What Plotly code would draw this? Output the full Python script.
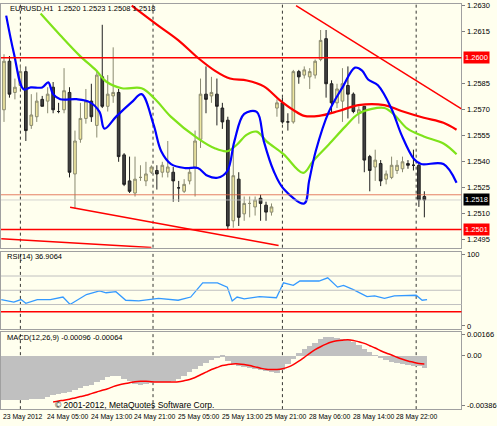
import plotly.graph_objects as go

# EURUSD H1 candles (bar index 0..77)
opens = [1.2570, 1.2598, 1.2580, 1.2584, 1.2592, 1.2561, 1.2566, 1.2576, 1.2575, 1.2583,
         1.2569, 1.2570, 1.2580, 1.2533, 1.2553, 1.2565, 1.2575, 1.2561, 1.2589, 1.2572,
         1.2578, 1.2580, 1.2544, 1.2529, 1.2522, 1.2531, 1.2529, 1.2534, 1.2535, 1.2534,
         1.2534, 1.2534, 1.2525, 1.2523, 1.2529, 1.2537, 1.2553, 1.2579, 1.2578, 1.2579,
         1.2571, 1.2564, 1.2506, 1.2530, 1.2510, 1.2516, 1.2514, 1.2519, 1.2515, 1.2511,
         1.2571, 1.2574, 1.2563, 1.2563, 1.2592, 1.2590, 1.2589, 1.2590, 1.2599, 1.2611,
         1.2585, 1.2574, 1.2575, 1.2584, 1.2579, 1.2568, 1.2572, 1.2543, 1.2537, 1.2539,
         1.2530, 1.2531, 1.2535, 1.2536, 1.2539, 1.2538, 1.2538, 1.2520]
highs = [1.2602, 1.2601, 1.2588, 1.2596, 1.2595, 1.2579, 1.2580, 1.2578, 1.2583, 1.2586,
         1.2574, 1.2594, 1.2583, 1.2558, 1.2574, 1.2582, 1.2585, 1.2593, 1.2619, 1.2590,
         1.2606, 1.2582, 1.2545, 1.2543, 1.2543, 1.2538, 1.2540, 1.2538, 1.2538, 1.2540,
         1.2552, 1.2537, 1.2529, 1.2530, 1.2537, 1.2558, 1.2588, 1.2595, 1.2589, 1.2588,
         1.2574, 1.2566, 1.2547, 1.2534, 1.2520, 1.2520, 1.2520, 1.2521, 1.2517, 1.2516,
         1.2576, 1.2577, 1.2568, 1.2593, 1.2593, 1.2595, 1.2594, 1.2599, 1.2616, 1.2616,
         1.2587, 1.2585, 1.2594, 1.2595, 1.2580, 1.2572, 1.2572, 1.2544, 1.2547, 1.2541,
         1.2535, 1.2543, 1.2541, 1.2543, 1.2541, 1.2547, 1.2540, 1.2523]
lows = [1.2563, 1.2577, 1.2576, 1.2582, 1.2552, 1.2559, 1.2563, 1.2572, 1.2568, 1.2568,
        1.2568, 1.2568, 1.2531, 1.2513, 1.2551, 1.2562, 1.2563, 1.2554, 1.2571, 1.2569,
        1.2574, 1.2540, 1.2526, 1.2522, 1.2520, 1.2529, 1.2526, 1.2533, 1.2524, 1.2531,
        1.2531, 1.2517, 1.2517, 1.2522, 1.2527, 1.2520, 1.2548, 1.2568, 1.2574, 1.2561,
        1.2559, 1.2501, 1.2502, 1.2503, 1.2506, 1.2508, 1.2509, 1.2506, 1.2506, 1.2509,
        1.2566, 1.2562, 1.2558, 1.2562, 1.2585, 1.2588, 1.2582, 1.2588, 1.2598, 1.2577,
        1.2568, 1.2571, 1.2563, 1.2565, 1.2568, 1.2562, 1.2534, 1.2523, 1.2529, 1.2526,
        1.2527, 1.2530, 1.2533, 1.2534, 1.2536, 1.2535, 1.2514, 1.2508]
closes = [1.2598, 1.2579, 1.2583, 1.2592, 1.2558, 1.2567, 1.2575, 1.2572, 1.2579, 1.2570,
          1.2569, 1.2581, 1.2534, 1.2552, 1.2565, 1.2575, 1.2566, 1.2590, 1.2572, 1.2579,
          1.2580, 1.2543, 1.2527, 1.2523, 1.2530, 1.2531, 1.2533, 1.2537, 1.2533, 1.2538,
          1.2537, 1.2529, 1.2525, 1.2527, 1.2534, 1.2552, 1.2579, 1.2576, 1.2580, 1.2572,
          1.2563, 1.2503, 1.2532, 1.2508, 1.2516, 1.2516, 1.2518, 1.2516, 1.2511, 1.2514,
          1.2574, 1.2563, 1.2563, 1.2592, 1.2589, 1.2593, 1.2592, 1.2598, 1.2610, 1.2585,
          1.2574, 1.2582, 1.2585, 1.2579, 1.2569, 1.2570, 1.2541, 1.2535, 1.2541, 1.2529,
          1.2533, 1.2538, 1.2538, 1.2540, 1.2538, 1.2538, 1.2518, 1.2518]
bars = list(range(len(opens)))

# moving averages (shifted, so they run past the last bar)
blue_x = [0.4, 1.8, 3.6, 4.9, 7.0, 8.1, 9.0, 10.3, 13.3, 15.7, 17.5, 18.4, 20.5, 23.4, 25.2,
          27.4, 28.8, 30.6, 33.2, 35.5, 37.3, 39.1, 40.9, 42.2, 44.0, 46.3, 47.6, 49.4, 51.2,
          55.0, 55.9, 57.1, 59.5, 62.0, 64.3, 65.6, 66.7, 68.5, 71.0, 72.8, 75.1, 76.4, 80.5, 82.9]
blue_y = [1.26243, 1.26028, 1.25818, 1.25829, 1.25829, 1.25858, 1.25790, 1.25761, 1.25761,
          1.25744, 1.25688, 1.25591, 1.25659, 1.25744, 1.25790, 1.25614, 1.25461, 1.25387,
          1.25364, 1.25364, 1.25319, 1.25308, 1.25347, 1.25518, 1.25676, 1.25688, 1.25518,
          1.25347, 1.25245, 1.25160, 1.25291, 1.25461, 1.25688, 1.25829, 1.25943, 1.25926,
          1.25875, 1.25841, 1.25705, 1.25557, 1.25416, 1.25387, 1.25387, 1.25279]
green_x = [6.7, 10.3, 13.9, 16.9, 18.7, 21.6, 25.2, 27.7, 30.6, 35.5, 38.6, 40.9, 42.7, 44.5,
           46.3, 48.1, 51.2, 54.8, 56.6, 59.5, 62.5, 64.9, 67.4, 69.7, 71.5, 73.9, 76.9, 80.5, 82.9]
green_y = [1.26255, 1.26130, 1.26011, 1.25926, 1.25863, 1.25824, 1.25824, 1.25761, 1.25659,
           1.25535, 1.25478, 1.25461, 1.25500, 1.25557, 1.25574, 1.25518, 1.25444, 1.25336,
           1.25404, 1.25500, 1.25603, 1.25676, 1.25705, 1.25710, 1.25671, 1.25591, 1.25546,
           1.25506, 1.25444]
red_x = [23.4, 27.7, 31.9, 35.5, 38.6, 41.4, 44.5, 47.6, 50.5, 53.0, 55.0, 57.7, 61.3, 64.9,
         69.7, 72.8, 76.9, 80.5, 82.9]
red_y = [1.26300, 1.26198, 1.26102, 1.26000, 1.25926, 1.25880, 1.25869, 1.25835, 1.25756,
         1.25699, 1.25665, 1.25665, 1.25693, 1.25727, 1.25727, 1.25693, 1.25654, 1.25625, 1.25585]

# horizontal levels and trend lines
levels_red = [1.2600, 1.2501]
level_ask = 1.2521
level_bid = 1.2518
trend_lines = [((12.1, 1.25138), (50.3, 1.24917)),
               ((-0.5, 1.24956), (27.0, 1.24906)),
               ((53.5, 1.26300), (83.8, 1.25705))]
price_ticks = [1.2630, 1.2615, 1.2585, 1.2570, 1.2555, 1.2540, 1.2525, 1.2510, 1.2495]

# RSI(14)
rsi_x = [-0.5, 1.8, 3.1, 4.0, 6.1, 8.5, 10.8, 12.1, 15.1, 17.5, 18.7, 20.5, 22.3, 24.7, 28.3,
         31.9, 34.2, 36.4, 39.1, 40.9, 41.8, 42.7, 44.0, 46.8, 49.9, 51.2, 53.0, 54.2, 57.7,
         59.3, 61.1, 62.2, 64.0, 66.5, 67.9, 69.7, 71.5, 75.5, 76.6, 77.5]
rsi_y = [37, 33.5, 37, 31.6, 37, 37, 40.5, 30, 44, 49, 46.5, 48, 36, 35, 38.6, 36, 40.5, 60.5,
         60.5, 54.4, 35, 40.5, 38, 41, 39.5, 60.5, 57, 63, 63, 67.4, 54.4, 56.7, 51, 41, 42,
         38.6, 42, 43, 36, 36.9]

# MACD(12,26,9) histogram and signal (x1e-5)
macd_hist = [-345, -345, -345, -345, -340, -337, -335, -332, -322, -307, -299, -289, -281,
             -266, -250, -235, -225, -204, -184, -166, -153, -158, -179, -194, -220, -225,
             -217, -212, -204, -204, -202, -199, -179, -153, -128, -102, -77, -59, -33, -20,
             -5, -38, -64, -77, -89, -95, -102, -107, -115, -123, -133, -107, -64, -26, 20,
             56, 77, 102, 133, 148, 146, 141, 133, 123, 107, 82, 56, 31, 5, -20, -36, -46,
             -56, -64, -72, -77, -82, -96]
macd_signal = [-358, -350, -345, -337, -327, -317, -307, -294, -281, -268, -256, -240, -227,
               -217, -210, -202, -199, -199, -202, -204, -204, -204, -204, -202, -194, -184,
               -169, -148, -128, -107, -92, -77, -69, -64, -64, -69, -77, -87, -97, -105,
               -107, -107, -102, -89, -69, -43, -13, 18, 46, 69, 89, 105, 115, 120, 123, 118,
               107, 95, 77, 59, 38, 20, 5, -13, -28, -41, -51, -61, -64]
signal_start = 9

day_breaks = [3, 27.3, 51, 75.5]
time_ticks = [0, 8, 16, 24, 32, 40, 48, 56, 64, 72]
time_labels = ["23 May 2012", "24 May 05:00", "24 May 13:00", "24 May 21:00", "25 May 05:00",
               "25 May 13:00", "25 May 21:00", "28 May 06:00", "28 May 14:00", "28 May 22:00"]

BG = "#FFFFEE"
FONT = "Liberation Sans"
XR = [-0.55, 83.8]

fig = go.Figure()
fig.add_trace(go.Candlestick(
    x=bars, open=opens, high=highs, low=lows, close=closes,
    increasing=dict(fillcolor="#EEE6A0", line=dict(color="#8A8A70", width=1)),
    decreasing=dict(fillcolor="#404040", line=dict(color="#202020", width=1)),
    whiskerwidth=0, xaxis="x", yaxis="y", showlegend=False))
for xs, ys, col in [(red_x, red_y, "#FF0000"), (green_x, green_y, "#7FE31A"),
                    (blue_x, blue_y, "#0000FF")]:
    fig.add_trace(go.Scatter(x=xs, y=ys, mode="lines", line=dict(color=col, width=2.2, shape="spline"),
                             xaxis="x", yaxis="y", showlegend=False))

fig.add_trace(go.Scatter(x=rsi_x, y=rsi_y, mode="lines", line=dict(color="#3399FF", width=1.3),
                         xaxis="x2", yaxis="y2", showlegend=False))

fig.add_trace(go.Bar(x=bars, y=[v * 1e-5 for v in macd_hist], marker=dict(color="#C0C0C0", line_width=0),
                     width=1.0, xaxis="x3", yaxis="y3", showlegend=False))
fig.add_trace(go.Scatter(x=bars[signal_start:], y=[v * 1e-5 for v in macd_signal],
                         mode="lines", line=dict(color="#FF0000", width=1.5, shape="spline"),
                         xaxis="x3", yaxis="y3", showlegend=False))

shapes = []
for lv in levels_red:
    shapes.append(dict(type="line", xref="x domain", yref="y", x0=0, x1=1, y0=lv, y1=lv,
                       line=dict(color="#FF0000", width=1.6)))
shapes.append(dict(type="line", xref="x domain", yref="y", x0=0, x1=1, y0=level_ask, y1=level_ask,
                   line=dict(color="#E06040", width=0.8)))
shapes.append(dict(type="line", xref="x domain", yref="y", x0=0, x1=1, y0=level_bid, y1=level_bid,
                   line=dict(color="#C8C8C8", width=0.8)))
for (xa, ya), (xb, yb) in trend_lines:
    shapes.append(dict(type="line", xref="x", yref="y", x0=xa, y0=ya, x1=xb, y1=yb,
                       line=dict(color="#FF0000", width=1.5)))
for xr, yr in [("x", "y"), ("x2", "y2"), ("x3", "y3")]:
    for d in day_breaks:
        shapes.append(dict(type="line", xref=xr, yref=yr + " domain", x0=d, x1=d, y0=0, y1=1,
                           line=dict(color="#000000", width=0.8, dash="dot"), layer="below"))
for lv in [70, 50, 30]:
    shapes.append(dict(type="line", xref="x2 domain", yref="y2", x0=0, x1=1, y0=lv, y1=lv,
                       line=dict(color="#C0C0C0", width=1)))
shapes.append(dict(type="line", xref="x2 domain", yref="y2", x0=0, x1=1, y0=20, y1=20,
                   line=dict(color="#FF0000", width=1.5)))

ann = []
small = dict(family=FONT, size=7.5, color="#000000")
ann.append(dict(text="EURUSD,H1  1.2520 1.2523 1.2508 1.2518", xref="paper", yref="paper",
                x=0.015, y=1 - 7 / 426, xanchor="left", yanchor="middle", showarrow=False, font=small))
ann.append(dict(text="RSI(14) 36.9064", xref="paper", yref="paper", x=0.008, y=1 - 257 / 426,
                xanchor="left", yanchor="middle", showarrow=False, font=small))
ann.append(dict(text="MACD(12,26,9) -0.00096 -0.00064", xref="paper", yref="paper", x=0.008,
                y=1 - 339 / 426, xanchor="left", yanchor="middle", showarrow=False, font=small))
ann.append(dict(text="© 2001-2012, MetaQuotes Software Corp.", xref="paper", yref="paper",
                x=53 / 497, y=1 - 407 / 426, xanchor="left", yanchor="middle", showarrow=False,
                font=dict(family=FONT, size=8.5, color="#000000")))
for t, lab in zip(time_ticks, time_labels):
    ann.append(dict(text=lab, xref="x3", yref="paper", x=t - 0.5, y=1 - 419 / 426, xanchor="left",
                    yanchor="middle", showarrow=False, font=dict(family=FONT, size=6.8, color="#000000")))
for lv, col in [(1.2600, "#FF0000"), (1.2501, "#FF0000"), (level_bid, "#000000")]:
    ann.append(dict(text="%.4f" % lv, xref="paper", yref="y", x=0.944, y=lv, xanchor="left",
                    yanchor="middle", showarrow=False, bgcolor=col,
                    font=dict(family=FONT, size=7.5, color="#FFFFFF"), borderpad=1))

xcommon = dict(range=XR, showgrid=False, zeroline=False, showticklabels=False, ticks="",
               showline=True, mirror=True, linecolor="#A0A0A0", domain=[0, 468 / 497])
ycommon = dict(side="right", showgrid=False, zeroline=False, ticks="outside", ticklen=3,
               tickcolor="#808080", showline=True, mirror=True, linecolor="#A0A0A0",
               tickfont=small)

fig.update_layout(
    width=497, height=426, margin=dict(l=0, r=0, t=0, b=0),
    paper_bgcolor=BG, plot_bgcolor=BG, bargap=0, showlegend=False, hovermode=False,
    xaxis=dict(**xcommon, anchor="y", rangeslider=dict(visible=False)),
    xaxis2=dict(**xcommon, anchor="y2"),
    xaxis3=dict(**xcommon, anchor="y3"),
    yaxis=dict(**ycommon, domain=[1 - 248 / 426, 1 - 2 / 426], range=[1.24905, 1.2631],
               tickvals=price_ticks, tickformat=".4f", anchor="x"),
    yaxis2=dict(**ycommon, domain=[1 - 330 / 426, 1 - 252 / 426], range=[-4.2, 104.2],
                tickvals=[100, 0], anchor="x2"),
    yaxis3=dict(**ycommon, domain=[1 - 411 / 426, 1 - 333 / 426], range=[-0.00414, 0.00184],
                tickvals=[0.00166, 0, -0.00386], ticktext=["0.00166", "0.00", "-0.00386"], anchor="x3"),
    shapes=shapes, annotations=ann,
)

fig.write_html("out.html", config={"displayModeBar": False},
               post_script="document.body.style.margin='0';document.body.style.overflow='hidden';")
